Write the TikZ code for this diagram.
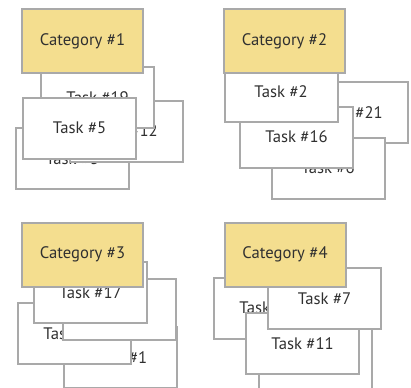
\documentclass[tikz,border=0pt]{standalone}
\usepackage{fontspec}
\setmainfont{PT Sans}
\definecolor{catyellow}{HTML}{F4DE8F}
\definecolor{boxgray}{HTML}{A9A9A9}
\definecolor{txtgray}{HTML}{303030}
\begin{document}
\begin{tikzpicture}[x=0.75pt,y=-0.75pt,
    card/.style={draw=boxgray,line width=1.5pt,text=txtgray,font=\fontsize{12.5}{14}\selectfont,inner sep=0pt},
    cat/.style={card,fill=catyellow,minimum width=90.75pt,minimum height=48pt},
    task/.style={card,fill=white,minimum width=84.75pt,minimum height=45.75pt}]
    \useasboundingbox (0,0) rectangle (411,387);

    % category 1
    \node[task] (t3)  at (72.5,158.5) {Task \#3};
    \node[task] (t12) at (126.5,131)  {Task \#12};
    \node[task] (t19) at (97.5,97.5)  {Task \#19};
    \node[task] (t5)  at (79.5,128)   {Task \#5};
    \node[cat]  (c1)  at (82.5,41)    {Category \#1};

    % category 2
    \node[task] (t21) at (351.5,112.5) {Task \#21};
    \node[task] (t6)  at (328,168)     {Task \#6};
    \node[task] (t16) at (296.5,137)   {Task \#16};
    \node[task] (t2)  at (281,91.5)    {Task \#2};
    \node[cat]  (c2)  at (284.5,41)    {Category \#2};

    % category 3
    \node[task] (t1)  at (120.5,357.5) {Task \#1};
    \node[task] (t3a) at (74.5,333.5)  {Task\phantom{ \#00}};
    \node[task] (t3b) at (119.5,309.5) {};
    \node[task] (t17) at (90.5,292.5)  {Task \#17};
    \node[cat]  (c3)  at (82.5,254.5)  {Category \#3};

    % category 4
    \node[task] (t4a) at (270.5,308)   {Task\phantom{ \#00}};
    \node[task] (t4b) at (315,358.5)   {};
    \node[task] (t11) at (302.5,343.5) {Task \#11};
    \node[task] (t7)  at (324.5,298.5) {Task \#7};
    \node[cat]  (c4)  at (285,254.5)   {Category \#4};
\end{tikzpicture}
\end{document}
